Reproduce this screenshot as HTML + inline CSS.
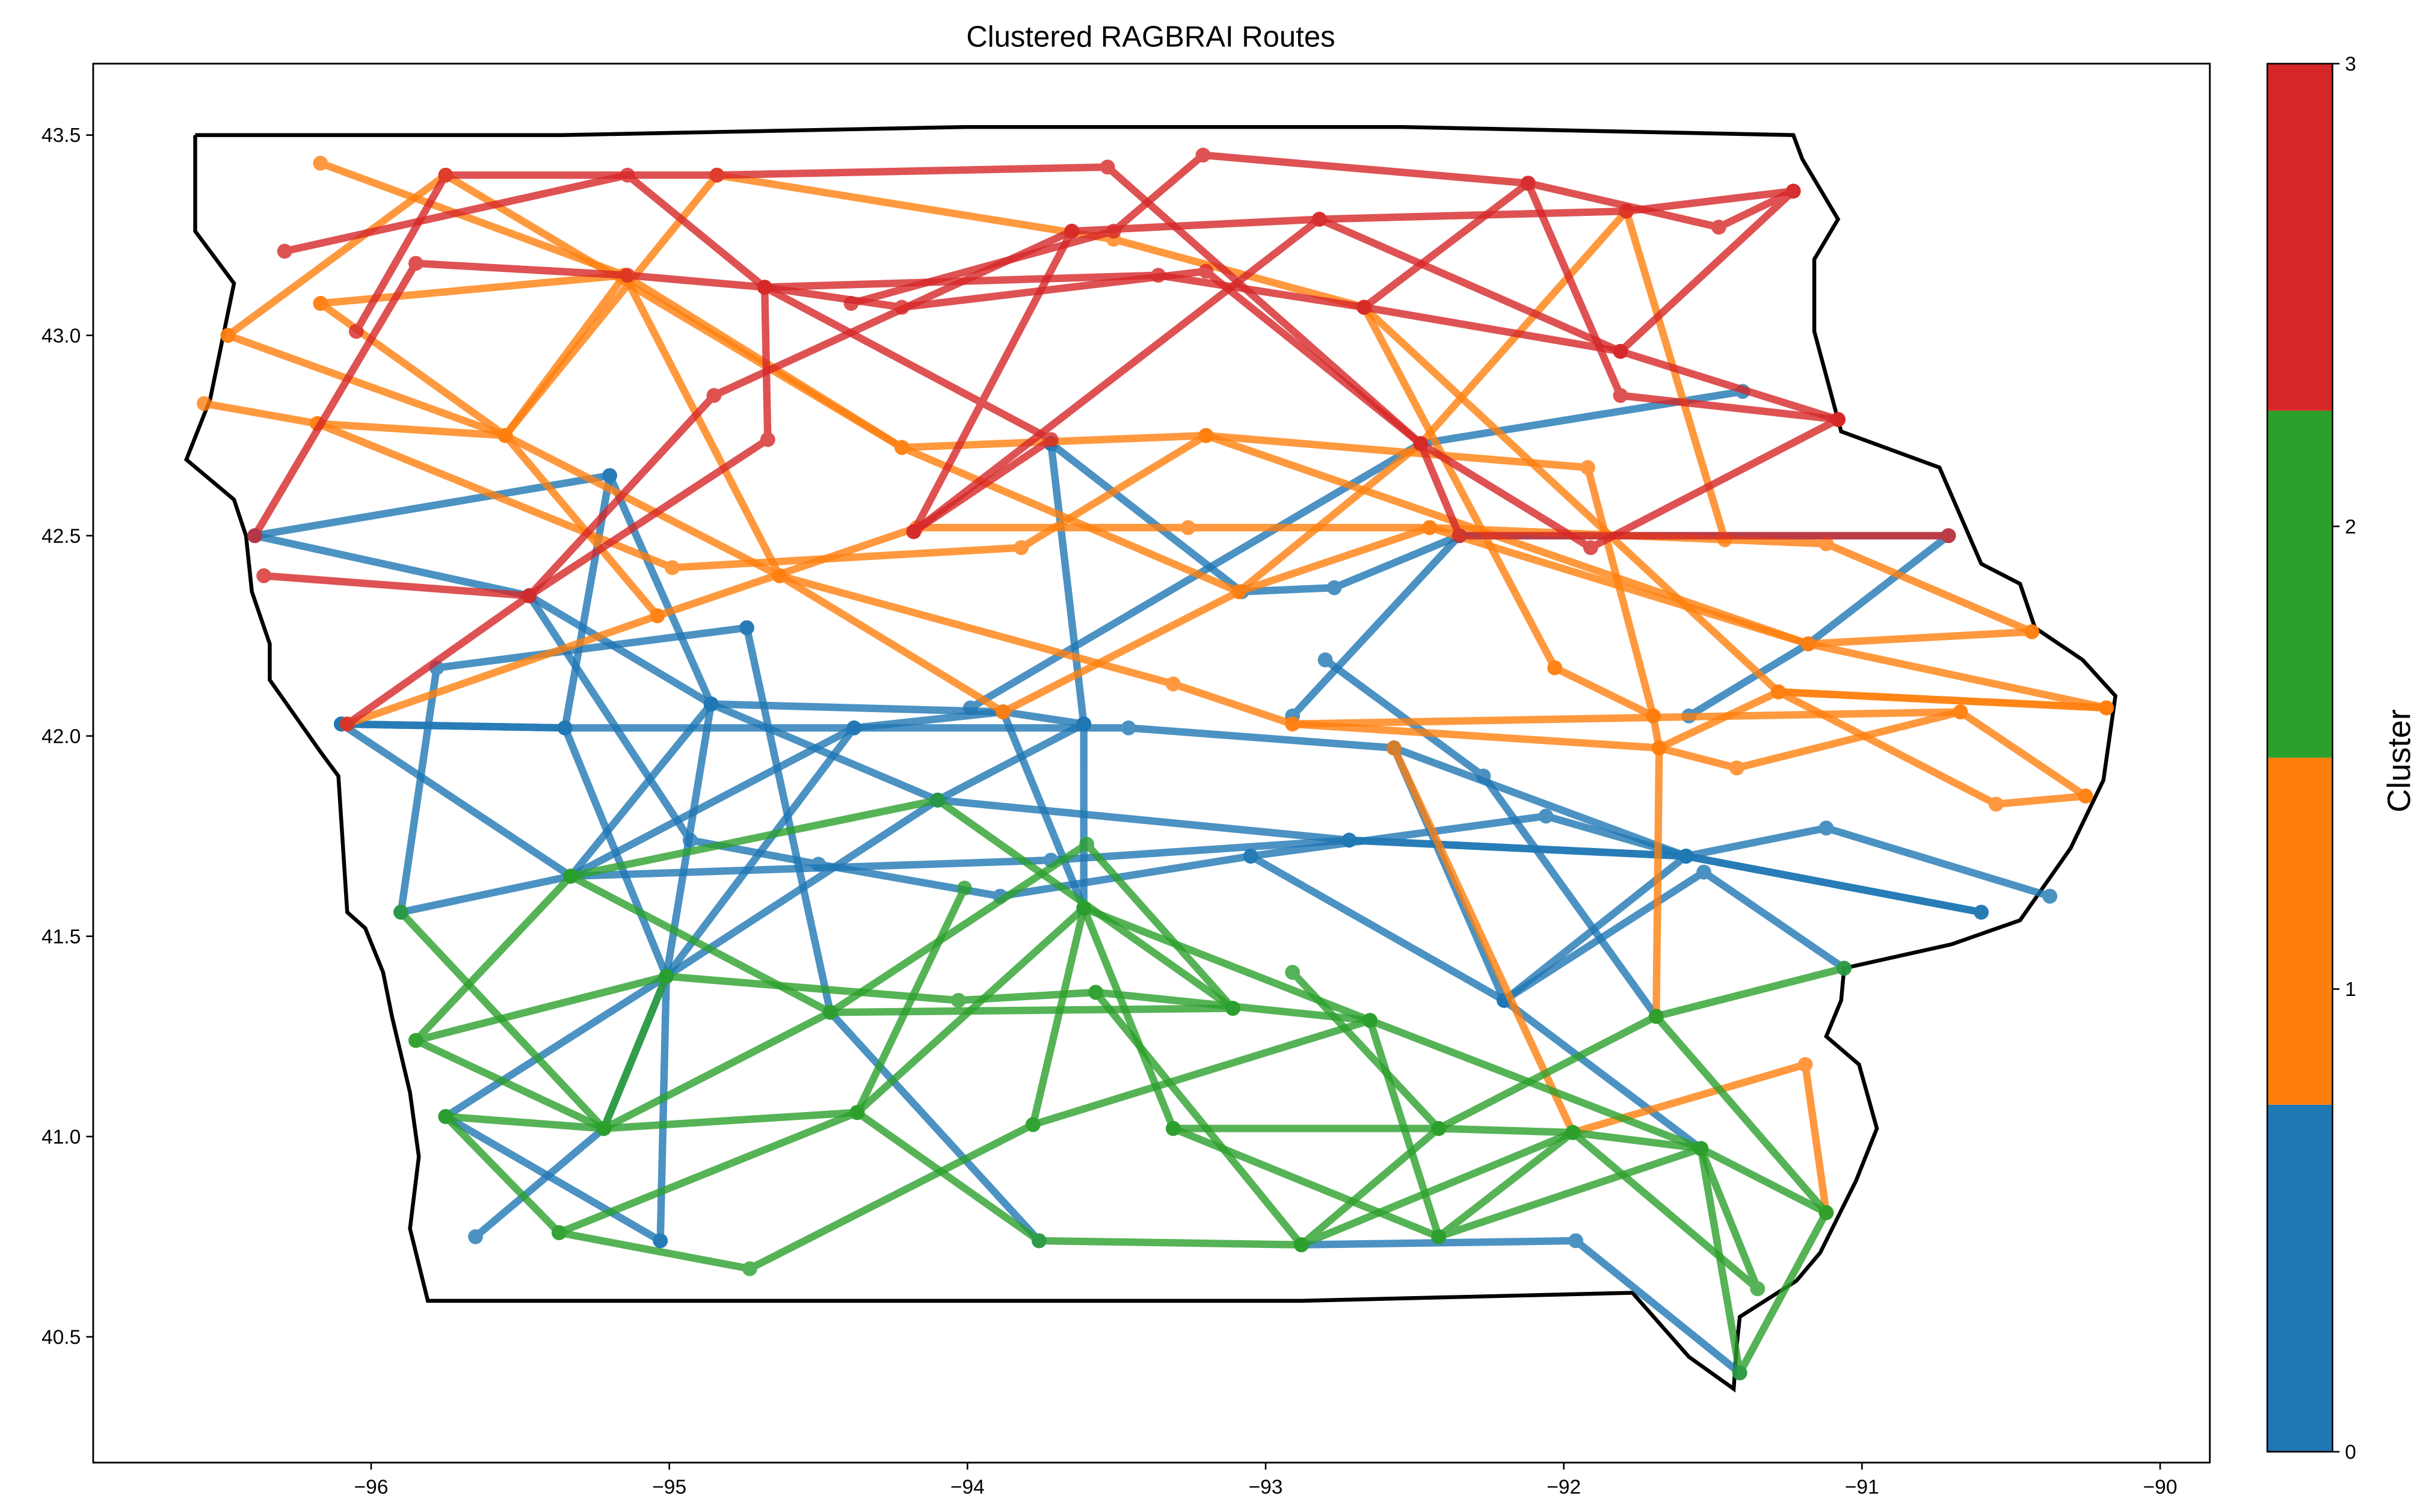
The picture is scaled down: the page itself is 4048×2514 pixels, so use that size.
<!DOCTYPE html>
<html>
<head>
<meta charset="utf-8">
<style>
html,body{margin:0;padding:0;background:#fff;}
svg{display:block;font-family:"Liberation Sans","DejaVu Sans",sans-serif;}
</style>
</head>
<body>
<svg id="chart" xmlns="http://www.w3.org/2000/svg" width="4048" height="2514" viewBox="0 0 1568 973.8">
  <rect x="0" y="0" width="1568" height="973.8" fill="#fff"/>
  <text x="741" y="30" font-size="19" text-anchor="middle">Clustered RAGBRAI Routes</text>
  <g id="plot"></g>
  <rect x="60" y="41" width="1363" height="901" fill="none" stroke="#000" stroke-width="1.1"/>
  <g id="xticks"></g>
  <g id="yticks"></g>
  <g id="cbar"></g>
  <text x="0" y="0" font-size="21" text-anchor="middle" transform="translate(1552,490) rotate(-90)">Cluster</text>
</svg>
<script>
const xTicks = [-96, -95, -94, -93, -92, -91, -90];
const yTicks = [40.5, 41.0, 41.5, 42.0, 42.5, 43.0, 43.5];
const cbarTicks = [0, 1, 2, 3];
const clusterColors = ["#1f77b4", "#ff7f0e", "#2ca02c", "#d62728"];
const clusterNames = ["cluster-0", "cluster-1", "cluster-2", "cluster-3"];

const iowaOutline = [[-96.59,43.50],[-95.36,43.50],[-94.01,43.52],[-92.54,43.52],[-91.23,43.50],[-91.20,43.44],[-91.08,43.29],[-91.16,43.19],[-91.16,43.01],[-91.07,42.76],[-90.74,42.67],[-90.60,42.43],[-90.47,42.38],[-90.42,42.27],[-90.26,42.19],[-90.15,42.10],[-90.19,41.89],[-90.30,41.72],[-90.47,41.54],[-90.70,41.48],[-91.06,41.42],[-91.07,41.34],[-91.12,41.25],[-91.01,41.18],[-90.95,41.02],[-91.02,40.89],[-91.14,40.71],[-91.22,40.64],[-91.41,40.55],[-91.42,40.48],[-91.43,40.37],[-91.58,40.45],[-91.77,40.61],[-92.88,40.59],[-93.92,40.59],[-95.81,40.59],[-95.87,40.77],[-95.84,40.95],[-95.87,41.11],[-95.93,41.30],[-95.96,41.41],[-96.02,41.52],[-96.08,41.56],[-96.11,41.90],[-96.17,41.96],[-96.34,42.14],[-96.34,42.23],[-96.40,42.36],[-96.42,42.50],[-96.46,42.59],[-96.62,42.69],[-96.54,42.84],[-96.46,43.13],[-96.59,43.26],[-96.59,43.50]];

const blueRoutes = [
 [[-96.39,42.50],[-95.20,42.65],[-95.35,42.02],[-96.10,42.03]],
 [[-96.39,42.50],[-95.47,42.35],[-94.86,42.08],[-93.88,42.06],[-93.61,42.03]],
 [[-96.10,42.03],[-95.35,42.02],[-93.46,42.02],[-92.57,41.97],[-91.59,41.70],[-90.60,41.56]],
 [[-95.90,41.56],[-95.78,42.17],[-94.74,42.27]],
 [[-94.74,42.27],[-94.46,41.31],[-93.76,40.74]],
 [[-95.90,41.56],[-95.33,41.65],[-93.72,41.69],[-92.72,41.74],[-91.59,41.70]],
 [[-95.47,42.35],[-94.93,41.74],[-94.50,41.68],[-93.89,41.60],[-93.05,41.70],[-92.20,41.34],[-91.54,40.97]],
 [[-96.10,42.03],[-95.33,41.65]],
 [[-94.86,42.08],[-95.01,41.40],[-95.03,40.74]],
 [[-95.35,42.02],[-95.01,41.40],[-95.22,41.02]],
 [[-95.75,41.05],[-95.01,41.40],[-94.10,41.84],[-93.61,42.03]],
 [[-95.01,41.40],[-94.38,42.02]],
 [[-95.33,41.65],[-94.38,42.02],[-93.88,42.06]],
 [[-95.33,41.65],[-94.86,42.08]],
 [[-93.72,42.73],[-93.61,42.03],[-93.61,41.57]],
 [[-93.88,42.06],[-93.61,41.57]],
 [[-93.99,42.07],[-92.48,42.73],[-91.40,42.86]],
 [[-93.72,42.73],[-93.08,42.36],[-92.77,42.37],[-92.35,42.50],[-90.71,42.50],[-91.18,42.23],[-91.58,42.05]],
 [[-94.10,41.84],[-92.72,41.74],[-91.59,41.70],[-90.60,41.56]],
 [[-93.05,41.70],[-92.06,41.80],[-91.59,41.70]],
 [[-92.20,41.34],[-91.53,41.66],[-91.06,41.42]],
 [[-92.20,41.34],[-91.59,41.70]],
 [[-91.59,41.70],[-91.12,41.77],[-90.37,41.60]],
 [[-92.80,42.19],[-92.27,41.90],[-91.69,41.30]],
 [[-92.57,41.97],[-92.20,41.34]],
 [[-92.88,40.73],[-91.96,40.74],[-91.41,40.41]],
 [[-95.65,40.75],[-95.22,41.02]],
 [[-95.75,41.05],[-95.03,40.74]],
 [[-95.20,42.65],[-94.86,42.08]],
 [[-92.91,42.05],[-92.35,42.50]],
 [[-94.86,42.08],[-94.10,41.84]]
];

const orangeRoutes = [
 [[-96.17,43.43],[-95.15,43.15],[-94.22,42.72],[-93.20,42.75],[-91.92,42.67],[-91.70,42.05]],
 [[-96.48,43.00],[-95.75,43.40],[-94.22,42.72],[-93.09,42.36],[-92.45,42.52],[-91.18,42.23],[-90.43,42.26]],
 [[-96.56,42.83],[-96.18,42.78],[-95.55,42.75],[-94.84,43.40],[-93.51,43.24],[-92.67,43.07],[-91.28,42.11],[-90.18,42.07]],
 [[-96.17,43.08],[-95.55,42.75],[-95.04,42.30],[-94.17,42.52],[-93.26,42.52],[-92.45,42.52],[-91.12,42.48],[-90.43,42.26]],
 [[-96.48,43.00],[-95.55,42.75],[-94.63,42.40],[-93.88,42.06]],
 [[-96.18,42.78],[-94.99,42.42],[-93.82,42.47],[-93.20,42.75]],
 [[-95.15,43.15],[-94.63,42.40],[-93.31,42.13],[-92.91,42.03],[-90.67,42.06],[-90.25,41.85]],
 [[-96.08,42.03],[-95.04,42.30]],
 [[-91.79,43.31],[-91.46,42.49]],
 [[-91.79,43.31],[-92.48,42.73],[-93.09,42.36],[-93.88,42.06]],
 [[-93.20,42.75],[-91.18,42.23],[-90.18,42.07]],
 [[-91.68,41.97],[-91.42,41.92],[-90.67,42.06]],
 [[-91.68,41.97],[-91.28,42.11],[-90.18,42.07]],
 [[-91.70,42.05],[-91.68,41.97],[-91.69,41.30]],
 [[-92.91,42.03],[-91.68,41.97]],
 [[-92.57,41.97],[-91.97,41.01],[-91.19,41.18],[-91.12,40.81]],
 [[-91.28,42.11],[-90.55,41.83],[-90.25,41.85]],
 [[-92.03,42.17],[-91.70,42.05]],
 [[-95.15,43.15],[-95.55,42.75]],
 [[-96.17,43.08],[-95.15,43.15]],
 [[-92.67,43.07],[-92.03,42.17]]
];

const greenRoutes = [
 [[-95.33,41.65],[-94.10,41.84],[-93.11,41.32]],
 [[-95.33,41.65],[-95.85,41.24],[-95.01,41.40],[-94.03,41.34],[-93.57,41.36],[-92.65,41.29]],
 [[-95.90,41.56],[-95.22,41.02],[-94.37,41.06]],
 [[-95.85,41.24],[-95.22,41.02],[-94.46,41.31],[-93.60,41.73],[-93.11,41.32]],
 [[-95.33,41.65],[-94.46,41.31],[-93.11,41.32]],
 [[-95.75,41.05],[-95.22,41.02]],
 [[-95.75,41.05],[-95.37,40.76],[-94.73,40.67],[-93.78,41.03],[-92.65,41.29]],
 [[-95.37,40.76],[-94.37,41.06],[-94.01,41.62]],
 [[-94.37,41.06],[-93.61,41.57],[-93.31,41.02]],
 [[-93.78,41.03],[-93.61,41.57],[-92.65,41.29],[-91.54,40.97],[-91.12,40.81]],
 [[-93.57,41.36],[-92.88,40.73]],
 [[-93.31,41.02],[-92.42,41.02],[-91.97,41.01],[-91.54,40.97]],
 [[-93.31,41.02],[-92.42,40.75]],
 [[-94.37,41.06],[-93.76,40.74],[-92.88,40.73]],
 [[-92.91,41.41],[-92.42,41.02]],
 [[-92.65,41.29],[-92.42,40.75]],
 [[-92.42,41.02],[-91.69,41.30],[-91.06,41.42]],
 [[-91.69,41.30],[-91.12,40.81],[-91.41,40.41],[-91.54,40.97]],
 [[-91.97,41.01],[-91.35,40.62],[-91.54,40.97]],
 [[-92.42,41.02],[-92.88,40.73],[-91.97,41.01]],
 [[-91.97,41.01],[-92.42,40.75],[-91.54,40.97]],
 [[-95.01,41.40],[-95.22,41.02]]
];

const redRoutes = [
 [[-96.29,43.21],[-95.14,43.40],[-94.68,43.12],[-94.22,43.07],[-93.20,43.16],[-92.48,42.73],[-91.91,42.47],[-91.08,42.79]],
 [[-96.05,43.01],[-95.75,43.40],[-94.84,43.40],[-93.53,43.42],[-92.48,42.73],[-92.35,42.50],[-90.71,42.50]],
 [[-96.39,42.50],[-95.85,43.18],[-95.14,43.15],[-94.68,43.12],[-93.36,43.15],[-92.67,43.07],[-91.81,42.96],[-91.08,42.79]],
 [[-96.36,42.40],[-95.47,42.35],[-94.85,42.85],[-93.65,43.26],[-92.82,43.29],[-91.79,43.31],[-91.23,43.36]],
 [[-96.08,42.03],[-95.47,42.35],[-94.67,42.74],[-94.68,43.12],[-93.72,42.74],[-94.18,42.51],[-93.65,43.26]],
 [[-94.39,43.08],[-93.51,43.26],[-93.21,43.45],[-92.12,43.38],[-91.48,43.27],[-91.23,43.36],[-91.81,42.96]],
 [[-94.18,42.51],[-92.82,43.29],[-91.81,42.96]],
 [[-92.67,43.07],[-92.12,43.38],[-91.81,42.85],[-91.08,42.79]]
];

const NS = "http://www.w3.org/2000/svg";
const AX = {left:60, right:1423, top:41, bottom:942};
function xScale(lon){ return 239 + (lon + 96) * 192; }
function yScale(lat){ return 87 + (43.5 - lat) * 258; }
function mk(tag, attrs){ const e = document.createElementNS(NS, tag); for (const k in attrs) e.setAttribute(k, attrs[k]); return e; }

const plot = document.getElementById("plot");
const clip = mk("clipPath", {id:"axclip"});
clip.appendChild(mk("rect", {x:AX.left, y:AX.top, width:AX.right-AX.left, height:AX.bottom-AX.top}));
plot.appendChild(clip);

const outline = mk("polyline", {points: iowaOutline.map(p => xScale(p[0]).toFixed(1)+","+yScale(p[1]).toFixed(1)).join(" "), fill:"none", stroke:"#000", "stroke-width":2.5, "stroke-linejoin":"miter"});


plot.appendChild(outline);

function drawCluster(routes, ci){
  const g = mk("g", {"clip-path":"url(#axclip)"});
  
  
  routes.forEach((r) => {
    const rg = mk("g", {opacity:0.8});
    
    
    const pl = mk("polyline", {points: r.map(p => xScale(p[0]).toFixed(1)+","+yScale(p[1]).toFixed(1)).join(" "), fill:"none", stroke:clusterColors[ci], "stroke-width":4.8, "stroke-linejoin":"round", "stroke-linecap":"butt"});
    rg.appendChild(pl);
    r.forEach(p => {
      const c = mk("circle", {cx:xScale(p[0]).toFixed(1), cy:yScale(p[1]).toFixed(1), r:4.8, fill:clusterColors[ci]});
      
      
      rg.appendChild(c);
    });
    g.appendChild(rg);
  });
  plot.appendChild(g);
}
drawCluster(blueRoutes, 0);
drawCluster(orangeRoutes, 1);
drawCluster(greenRoutes, 2);
drawCluster(redRoutes, 3);

const xg = document.getElementById("xticks");
xTicks.forEach(v => {
  const x = xScale(v);
  const t = mk("line", {x1:x, x2:x, y1:AX.bottom, y2:AX.bottom+4.5, stroke:"#000", "stroke-width":1});
  
  
  xg.appendChild(t);
  const l = mk("text", {x:x, y:AX.bottom+20, "font-size":13, "text-anchor":"middle"});
  l.textContent = "\u2212" + Math.abs(v);
  
  
  xg.appendChild(l);
});
const yg = document.getElementById("yticks");
yTicks.forEach(v => {
  const y = yScale(v);
  const t = mk("line", {x1:AX.left-4.5, x2:AX.left, y1:y, y2:y, stroke:"#000", "stroke-width":1});
  
  
  yg.appendChild(t);
  const l = mk("text", {x:AX.left-8, y:y+4.5, "font-size":13, "text-anchor":"end"});
  l.textContent = v.toFixed(1);
  
  
  yg.appendChild(l);
});
const cb = document.getElementById("cbar");
const CB = {left:1460, right:1502, top:41, bottom:935};
function cbY(v){ return CB.bottom - (v / 3) * (CB.bottom - CB.top); }
clusterColors.forEach((col, i) => {
  const y1 = cbY((i+1)*0.75), y0 = cbY(i*0.75);
  const r = mk("rect", {x:CB.left, y:y1, width:CB.right-CB.left, height:y0-y1, fill:col});
  
  
  cb.appendChild(r);
});
const cbf = mk("rect", {x:CB.left, y:CB.top, width:CB.right-CB.left, height:CB.bottom-CB.top, fill:"none", stroke:"#000", "stroke-width":1});


cb.appendChild(cbf);
cbarTicks.forEach(v => {
  const y = cbY(v);
  const t = mk("line", {x1:CB.right, x2:CB.right+4.5, y1:y, y2:y, stroke:"#000", "stroke-width":1});
  
  
  cb.appendChild(t);
  const l = mk("text", {x:CB.right+8, y:y+4.5, "font-size":13, "text-anchor":"start"});
  l.textContent = String(v);
  
  
  cb.appendChild(l);
});
</script>
</body>
</html>
